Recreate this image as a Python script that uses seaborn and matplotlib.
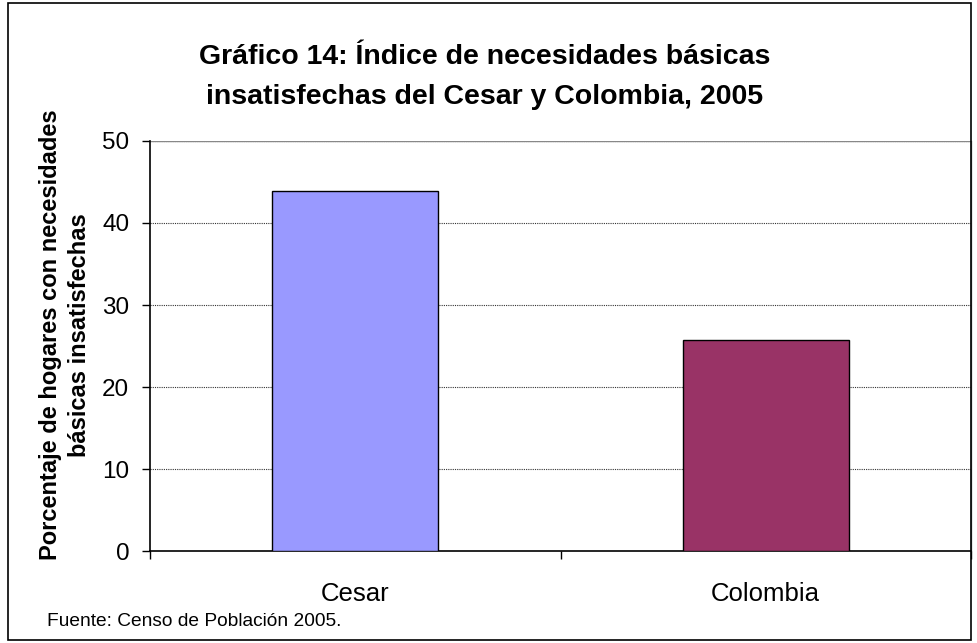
import numpy as np
import pandas as pd
import seaborn as sns
import matplotlib.pyplot as plt
import matplotlib.patches as patches

categories = ["Cesar", "Colombia"]
values = [43.9, 25.7]
bar_colors = ["#9999FF", "#993366"]
y_ticks = [0, 10, 20, 30, 40, 50]

sns.set_theme(style="white")
plt.rcParams["font.family"] = ["Liberation Sans", "DejaVu Sans"]
plt.rcParams["text.color"] = "black"
plt.rcParams["xtick.color"] = "black"
plt.rcParams["ytick.color"] = "black"
plt.rcParams["axes.labelcolor"] = "black"

W, H = 977, 643
fig = plt.figure(figsize=(W / 100, H / 100), dpi=100)
fig.patch.set_facecolor("white")

# outer chart border
fig.add_artist(patches.Rectangle((8 / W, 3 / H), (W - 14) / W, (H - 6) / H,
                                 transform=fig.transFigure, fill=False,
                                 edgecolor="black", linewidth=1.2))

ax = fig.add_axes([150 / W, (H - 551) / H, 821 / W, 410 / H])
df = pd.DataFrame({"cat": categories, "val": values})
sns.barplot(data=df, x="cat", y="val", hue="cat", palette=bar_colors,
            width=0.405, edgecolor="black", linewidth=1.0, legend=False,
            saturation=1, ax=ax, zorder=3)

ax.set_xlim(-0.5, 1.5)
ax.set_ylim(0, 50)
ax.set_yticks(y_ticks)
ax.set_yticklabels([str(t) for t in y_ticks], fontsize=17.5)
for t in y_ticks[1:]:
    ax.axhline(t, color="#333333", linewidth=0.8, linestyle=(0, (1, 1)), zorder=1)

# category ticks between categories
ax.set_xticks([-0.5, 0.5, 1.5])
ax.set_xticklabels([])
ax.set_xticks([0, 1], minor=True)
ax.set_xticklabels(categories, minor=True, fontsize=18.5)
ax.tick_params(axis="x", which="major", direction="out", length=6, width=1, color="black", bottom=True)
ax.tick_params(axis="x", which="minor", length=0, pad=22)
ax.tick_params(axis="y", direction="out", length=6, width=1, color="black", left=True, pad=9)

ax.set_xlabel("")
ax.set_ylabel("")

ax.spines["top"].set_visible(False)
ax.spines["left"].set_color("black")
ax.spines["left"].set_linewidth(1.2)
ax.spines["bottom"].set_color("black")
ax.spines["bottom"].set_linewidth(1.2)
ax.spines["right"].set_color("#888888")
ax.spines["right"].set_linewidth(1.0)
ax.axhline(50, color="#888888", linewidth=1.0, zorder=1)

fig.text(65 / W, 1 - 335 / H,
         "Porcentaje de hogares con necesidades\nbásicas insatisfechas",
         rotation=90, ha="center", va="center", multialignment="center",
         fontsize=17, fontweight="bold", linespacing=1.35)

fig.text(485 / W, 1 - 77 / H,
         "Gráfico 14: Índice de necesidades básicas\ninsatisfechas del Cesar y Colombia, 2005",
         ha="center", va="center", fontsize=20.5, fontweight="bold", linespacing=1.65)
fig.text(47 / W, 1 - 621 / H, "Fuente: Censo de Población 2005.", fontsize=13.8,
         ha="left", va="center")

fig.savefig("out.png", dpi=100)
